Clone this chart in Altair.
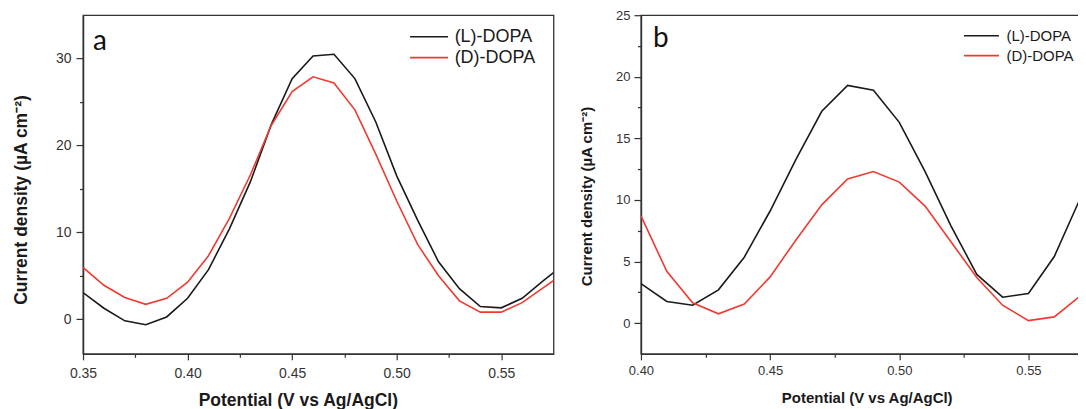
import altair as alt
import pandas as pd

# ---------------- data ----------------
series = ["(L)-DOPA", "(D)-DOPA"]
colors = ["#1a1a1a", "#f03a30"]

# panel a
x_a = [0.35, 0.36, 0.37, 0.38, 0.39, 0.40, 0.41, 0.42, 0.43, 0.44, 0.45, 0.46,
       0.47, 0.48, 0.49, 0.50, 0.51, 0.52, 0.53, 0.54, 0.55, 0.56, 0.57, 0.58]
l_a = [3.05, 1.25, -0.2, -0.65, 0.25, 2.4, 5.7, 10.4, 15.8, 22.4, 27.7, 30.3,
       30.5, 27.7, 22.7, 16.5, 11.4, 6.6, 3.5, 1.45, 1.3, 2.4, 4.4, 6.3]
d_a = [5.95, 3.9, 2.5, 1.7, 2.4, 4.25, 7.3, 11.6, 16.6, 22.3, 26.2, 27.9,
       27.2, 24.1, 19.0, 13.6, 8.6, 5.0, 2.1, 0.8, 0.8, 1.9, 3.6, 5.3]

# panel b
x_b = [0.40, 0.41, 0.42, 0.43, 0.44, 0.45, 0.46, 0.47, 0.48, 0.49, 0.50,
       0.51, 0.52, 0.53, 0.54, 0.55, 0.56, 0.57, 0.58]
l_b = [3.2, 1.75, 1.45, 2.7, 5.35, 9.1, 13.3, 17.2, 19.3, 18.9, 16.3,
       12.3, 7.9, 3.95, 2.1, 2.4, 5.4, 10.1, 15.0]
d_b = [8.7, 4.2, 1.65, 0.75, 1.55, 3.75, 6.75, 9.6, 11.7, 12.3, 11.45,
       9.5, 6.6, 3.7, 1.45, 0.2, 0.5, 2.2, 4.3]

# axis ticks
xmaj_a = [0.35, 0.40, 0.45, 0.50, 0.55]
xmin_a = [0.375, 0.425, 0.475, 0.525]
ymaj_a = [0, 10, 20, 30]
ymin_a = [5, 15, 25]
xmaj_b = [0.40, 0.45, 0.50, 0.55]
xmin_b = [0.425, 0.475, 0.525]
ymaj_b = [0, 5, 10, 15, 20, 25]
ymin_b = [2.5, 7.5, 12.5, 17.5, 22.5]


def long_df(xs, l, d):
    rows = []
    for x, v in zip(xs, l):
        rows.append({"x": x, "y": v, "s": series[0], "o": 0})
    for x, v in zip(xs, d):
        rows.append({"x": x, "y": v, "s": series[1], "o": 1})
    return pd.DataFrame(rows)


FONT = "Liberation Sans"


def minor_axis(maj, mnr, fmt, major_size, **kw):
    test = f"indexof({list(mnr)}, datum.value) >= 0"
    return alt.Axis(
        values=sorted(maj + mnr),
        labelExpr=f"{test} ? '' : format(datum.value, '{fmt}')",
        tickSize={"condition": {"test": test, "value": 3.5}, "value": major_size},
        **kw)


def panel(df, xdom, ydom, xmaj, xmin, ymaj, ymin, w, h, letter, lpos,
          lab_fs, tit_fs, xtitle, ytitle, xt_x, xt_pad, yt_y, yt_pad,
          lx_pad, ly_pad, leg):
    xs = alt.Scale(domain=xdom, nice=False, zero=False)
    ys = alt.Scale(domain=ydom, nice=False, zero=False)
    lines = alt.Chart(df).mark_line(strokeWidth=1.6, clip=True).encode(
        x=alt.X("x:Q", scale=xs, axis=minor_axis(
            xmaj, xmin, ".2f", 6, title=xtitle, orient="bottom",
            labelPadding=lx_pad, labelFontSize=lab_fs,
            titleFontSize=tit_fs, titleX=xt_x, titlePadding=xt_pad)),
        y=alt.Y("y:Q", scale=ys, axis=minor_axis(
            ymaj, ymin, "d", 7, title=ytitle, orient="left",
            labelPadding=ly_pad, labelFontSize=lab_fs,
            titleFontSize=tit_fs, titleY=yt_y, titlePadding=yt_pad)),
        color=alt.Color("s:N", scale=alt.Scale(domain=series, range=colors),
                        legend=alt.Legend(**leg)),
        order=alt.Order("o:Q"),
    )
    txt = alt.Chart(pd.DataFrame({"t": [letter]})).mark_text(
        font="Lato", fontSize=28, align="center", baseline="alphabetic",
        color="#111111").encode(
        text="t:N", x=alt.value(lpos[0]), y=alt.value(lpos[1]))
    return alt.layer(lines, txt).properties(width=w, height=h)


# long, thin legend stroke drawn with a small symbol size
LEG_PATH = "M-2.5,0H2.5"
leg_common = dict(orient="none", symbolType=LEG_PATH, symbolStrokeWidth=1.6,
                  padding=0, title=None, labelFont=FONT, labelColor="#1a1a1a")

panel_a = panel(
    long_df(x_a, l_a, d_a), [0.35, 0.575], [-4, 35],
    xmaj_a, xmin_a, ymaj_a, ymin_a, 471, 339, "a", (17, 35),
    14, 17.5, "Potential  (V vs Ag/AgCl)", "Current density (µA cm⁻²)",
    215, 10.5, 184.5, 25.3, 7, 5,
    dict(leg_common, legendX=337.4, legendY=12.5, symbolSize=231,
         labelFontSize=18, labelOffset=16.6, rowPadding=3))

panel_b = panel(
    long_df(x_b, l_b, d_b), [0.40, 0.5717], [-2.5, 25],
    xmaj_b, xmin_b, ymaj_b, ymin_b, 444, 339, "b", (20, 31.5),
    13, 15, "Potential (V vs Ag/AgCl)", "Current density (µA cm⁻²)",
    226, 12.5, 181, 20.8, 5, 4,
    dict(leg_common, legendX=332.9, legendY=12.5, symbolSize=196,
         labelFontSize=15, labelOffset=17, rowPadding=4))

# panel b is cut by the right edge of the picture, as in the original figure
chart = alt.hconcat(panel_a, panel_b, spacing=24.5).resolve_scale(
    color="independent").properties(
    padding={"left": 3.1, "top": 0, "right": -8, "bottom": 0},
    background="white",
).configure_axis(
    grid=False, domainColor="#333333", domainWidth=1.5,
    tickColor="#333333", tickWidth=1.2, labelColor="#333333",
    labelFont=FONT, titleFont=FONT, titleFontWeight="bold",
    titleColor="#1a1a1a", labelFlush=False, labelOverlap=False,
).configure_view(stroke="#333333", strokeWidth=1.3)

chart.save("out.html", embed_options={"renderer": "svg", "actions": False})
